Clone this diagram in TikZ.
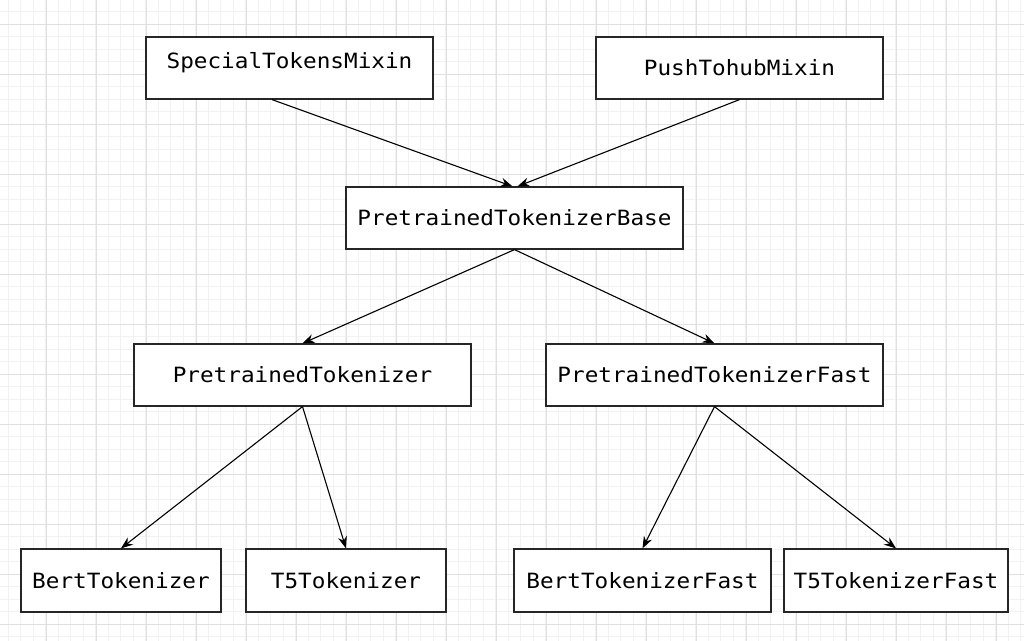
\documentclass[tikz,border=0pt]{standalone}
\usepackage{fontspec}
\usetikzlibrary{arrows.meta}
\newfontfamily\clsfont[FakeStretch=1.08]{DejaVu Sans Mono}
\definecolor{gridmajor}{HTML}{E0E0E0}
\definecolor{gridminor}{HTML}{F2F2F2}
\tikzset{
	cls/.style={draw=black!85,line width=1.2bp,fill=white,minimum height=62bp,inner sep=0pt,
		font=\clsfont\fontsize{21bp}{25bp}\selectfont},
	minorline/.style={gridminor,line width=1bp},
	majorline/.style={gridmajor,line width=1bp}
}
\begin{document}
\begin{tikzpicture}[x=1bp,y=-1bp,>={Stealth[length=12bp,width=9bp]},line width=1.1bp]
	\useasboundingbox (0,0) rectangle (1024,641);
	\fill[white] (0,0) rectangle (1024,641);
	% grid
	\foreach \i in {0,...,81}
	\draw[minorline] ({8.3+12.5*\i},0)--++(0,641);
	\foreach \i in {0,...,51}
	\draw[minorline] (0,{11.8+12.5*\i})--++(1024,0);
	\foreach \i in {0,...,19}
	\draw[majorline] ({46.3+50*\i},0)--++(0,641);
	\foreach \i in {0,...,12}
	\draw[majorline] (0,{24.3+50*\i})--++(1024,0);
	% classes
	\node[cls,minimum width=287bp,text depth=16bp] (stm) at (289.5,68) {SpecialTokensMixin};
	\node[cls,minimum width=287bp] (pth) at (739.5,68) {PushTohubMixin};
	\node[cls,minimum width=337bp] (base) at (514.5,218) {PretrainedTokenizerBase};
	\node[cls,minimum width=337bp] (pt) at (302.5,375) {PretrainedTokenizer};
	\node[cls,minimum width=337bp] (ptf) at (714.5,375) {PretrainedTokenizerFast};
	\node[cls,minimum width=200bp,minimum height=63bp] (bert) at (121,580.5) {BertTokenizer};
	\node[cls,minimum width=200bp,minimum height=63bp] (t5) at (346,580.5) {T5Tokenizer};
	\node[cls,minimum width=257bp,minimum height=63bp] (bertf) at (642.5,580.5) {BertTokenizerFast};
	\node[cls,minimum width=224bp,minimum height=63bp] (t5f) at (896,580.5) {T5TokenizerFast};
	% inheritance
	\draw[->] ([xshift=-17.5bp]stm.south) -- ([xshift=-2bp]base.north);
	\draw[->] (pth.south) -- ([xshift=3bp]base.north);
	\draw[->] (base.south) -- (pt.north);
	\draw[->] (base.south) -- (ptf.north);
	\draw[->] (pt.south) -- (bert.north);
	\draw[->] (pt.south) -- (t5.north);
	\draw[->] (ptf.south) -- (bertf.north);
	\draw[->] (ptf.south) -- (t5f.north);
\end{tikzpicture}
\end{document}
